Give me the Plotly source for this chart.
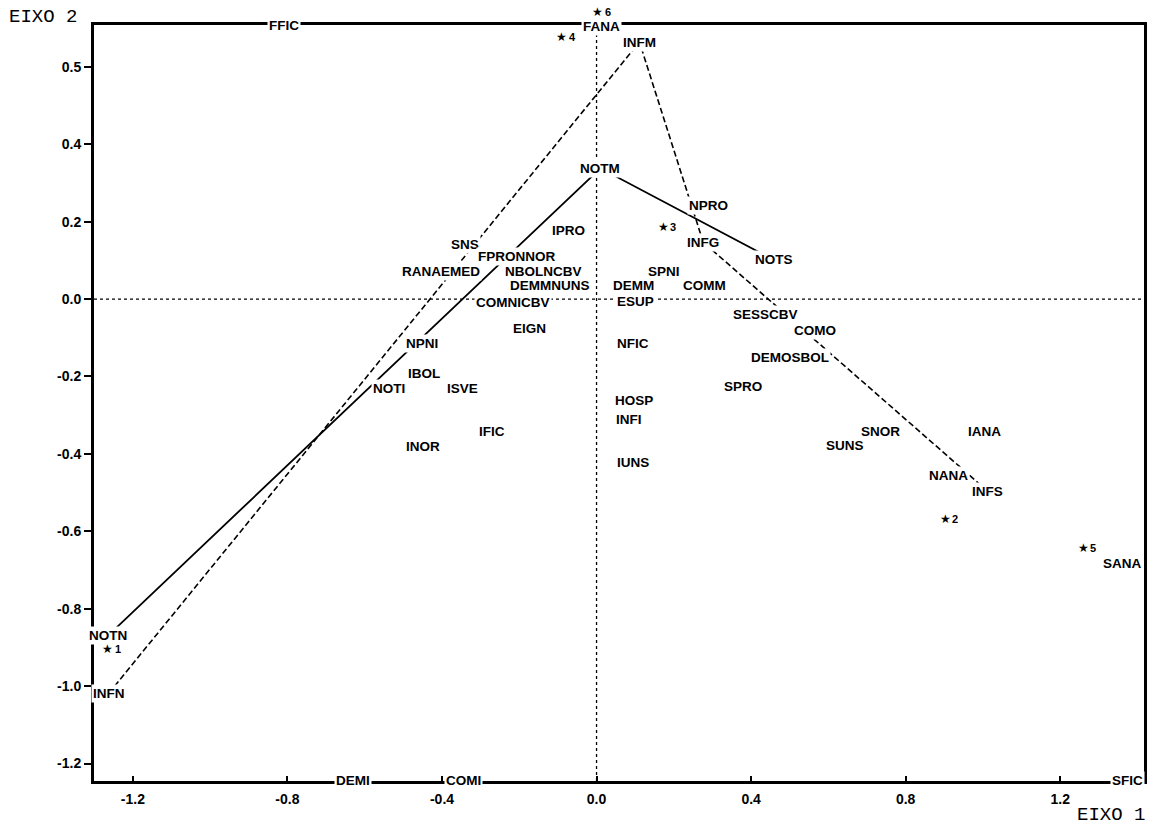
import plotly.graph_objects as go

# ---- data ----
labels = ["INFM", "NOTM", "NPRO", "IPRO", "INFG", "SNS", "FPRONNOR", "NOTS",
          "RANAEMED", "NBOLNCBV", "SPNI", "DEMMNUNS", "DEMM", "COMM", "COMNICBV",
          "ESUP", "SESSCBV", "COMO", "EIGN", "NFIC", "NPNI", "DEMOSBOL", "IBOL",
          "NOTI", "ISVE", "SPRO", "HOSP", "INFI", "IFIC", "SNOR", "IANA", "INOR",
          "SUNS", "IUNS", "NANA", "INFS", "SANA", "NOTN", "INFN"]
label_x = [0.111, 0.010, 0.289, -0.072, 0.276, -0.341, -0.206, 0.459,
           -0.403, -0.137, 0.175, -0.121, 0.095, 0.279, -0.217,
           0.101, 0.436, 0.565, -0.173, 0.095, -0.452, 0.501, -0.446,
           -0.537, -0.348, 0.379, 0.098, 0.085, -0.271, 0.735, 1.004, -0.449,
           0.643, 0.095, 0.911, 1.012, 1.360, -1.265, -1.262]
label_y = [0.664, 0.338, 0.243, 0.176, 0.147, 0.142, 0.111, 0.101,
           0.070, 0.070, 0.072, 0.036, 0.034, 0.034, -0.008,
           -0.005, -0.041, -0.080, -0.077, -0.114, -0.114, -0.152, -0.191,
           -0.230, -0.230, -0.227, -0.261, -0.310, -0.341, -0.343, -0.343, -0.380,
           -0.377, -0.421, -0.455, -0.496, -0.682, -0.870, -1.018]

# categories falling outside the frame, drawn on the border
border_labels = ["FFIC", "FANA", "DEMI", "COMI", "SFIC"]
border_x = [-0.808, 0.013, -0.630, -0.345, 1.373]
border_y = [0.708, 0.705, -1.243, -1.243, -1.243]

# supplementary individuals
sup_ids = ["1", "2", "3", "4", "5", "6"]
sup_x = [-1.265, 0.903, 0.173, -0.090, 1.259, 0.003]
sup_y = [-0.903, -0.568, 0.186, 0.677, -0.643, 0.741]

# trajectories
not_path = ["NOTN", "NOTM", "NOTS"]
inf_path = ["INFN", "INFM", "INFG", "INFS"]

x_ticks = [-1.2, -0.8, -0.4, 0.0, 0.4, 0.8, 1.2]
x_tick_text = ["-1.2", "-0.8", "-0.4", "0.0", "0.4", "0.8", "1.2"]
y_ticks = [0.6, 0.4, 0.2, 0.0, -0.2, -0.4, -0.6, -0.8, -1.0, -1.2]
y_tick_text = ["0.5", "0.4", "0.2", "0.0", "-0.2", "-0.4", "-0.6", "-0.8", "-1.0", "-1.2"]

x_range = [-1.3006, 1.4168]
y_range = [-1.245, 0.708]

# ---- figure ----
pos = {lab: (x, y) for lab, x, y in zip(labels, label_x, label_y)}

fig = go.Figure()

fig.add_trace(go.Scatter(
    x=[pos[k][0] for k in not_path], y=[pos[k][1] for k in not_path],
    mode="lines", line=dict(color="black", width=1.8), hoverinfo="skip",
    showlegend=False))
fig.add_trace(go.Scatter(
    x=[pos[k][0] for k in inf_path], y=[pos[k][1] for k in inf_path],
    mode="lines", line=dict(color="black", width=1.6, dash="6px,3px"),
    hoverinfo="skip", showlegend=False))

# dotted reference axes
fig.add_shape(type="line", xref="x", yref="y", x0=0, x1=0,
              y0=y_range[0], y1=y_range[1],
              line=dict(color="black", width=1.3, dash="dot"), layer="below")
fig.add_shape(type="line", xref="x", yref="y", x0=x_range[0], x1=x_range[1],
              y0=0, y1=0, line=dict(color="black", width=1.3, dash="dot"),
              layer="below")

lab_font = dict(family="Liberation Sans", size=13.5, color="black", weight="bold")
for lab, x, y in zip(labels, label_x, label_y):
    fig.add_annotation(x=x, y=y, xref="x", yref="y", text=lab, showarrow=False,
                       font=lab_font, bgcolor="white", borderpad=1,
                       xanchor="center", yanchor="middle")
for lab, x, y in zip(border_labels, border_x, border_y):
    fig.add_annotation(x=x, y=y, xref="x", yref="y", text=lab, showarrow=False,
                       font=lab_font, bgcolor="white", borderpad=1,
                       xanchor="center", yanchor="middle")

# supplementary points; y placed on the y-axis domain so that point 6,
# which lies just above the frame, is still drawn
star_font = dict(family="DejaVu Sans", size=12, color="black")
num_font = dict(family="Liberation Sans", size=11, color="black", weight="bold")
y_span = y_range[1] - y_range[0]
for sid, x, y in zip(sup_ids, sup_x, sup_y):
    yd = (y - y_range[0]) / y_span
    fig.add_annotation(x=x, y=yd, xref="x", yref="y domain", text="★",
                       showarrow=False, font=star_font,
                       xanchor="center", yanchor="middle")
    fig.add_annotation(x=x, y=yd, xref="x", yref="y domain", text=sid,
                       showarrow=False, font=num_font,
                       xanchor="left", yanchor="middle", xshift=5)

mono = dict(family="Liberation Mono", size=19, color="black")
fig.add_annotation(x=-0.083, y=1.011, xref="paper", yref="paper", text="EIXO 2",
                   showarrow=False, font=mono, xanchor="left", yanchor="middle")
fig.add_annotation(x=1.003, y=-0.045, xref="paper", yref="paper", text="EIXO 1",
                   showarrow=False, font=mono, xanchor="right", yanchor="middle")

tick_font = dict(family="Liberation Sans", size=14, color="black", weight="bold")
fig.update_layout(
    width=1153, height=828,
    margin=dict(l=94, r=6, t=25, b=47),
    paper_bgcolor="white", plot_bgcolor="white",
    xaxis=dict(range=x_range, tickvals=x_ticks, ticktext=x_tick_text,
               showgrid=False, zeroline=False, showline=True, mirror=True,
               linecolor="black", linewidth=3, ticks="inside", ticklen=5,
               tickwidth=2, tickcolor="black", tickfont=tick_font,
               ticklabelstandoff=3),
    yaxis=dict(range=y_range, tickvals=y_ticks, ticktext=y_tick_text,
               showgrid=False, zeroline=False, showline=True, mirror=True,
               linecolor="black", linewidth=3, ticks="outside", ticklen=7,
               tickwidth=2, tickcolor="black", tickfont=tick_font),
)

fig.write_html("out.html", config={"displayModeBar": False},
               post_script="document.body.style.margin='0px';"
                           "document.body.style.padding='0px';")
